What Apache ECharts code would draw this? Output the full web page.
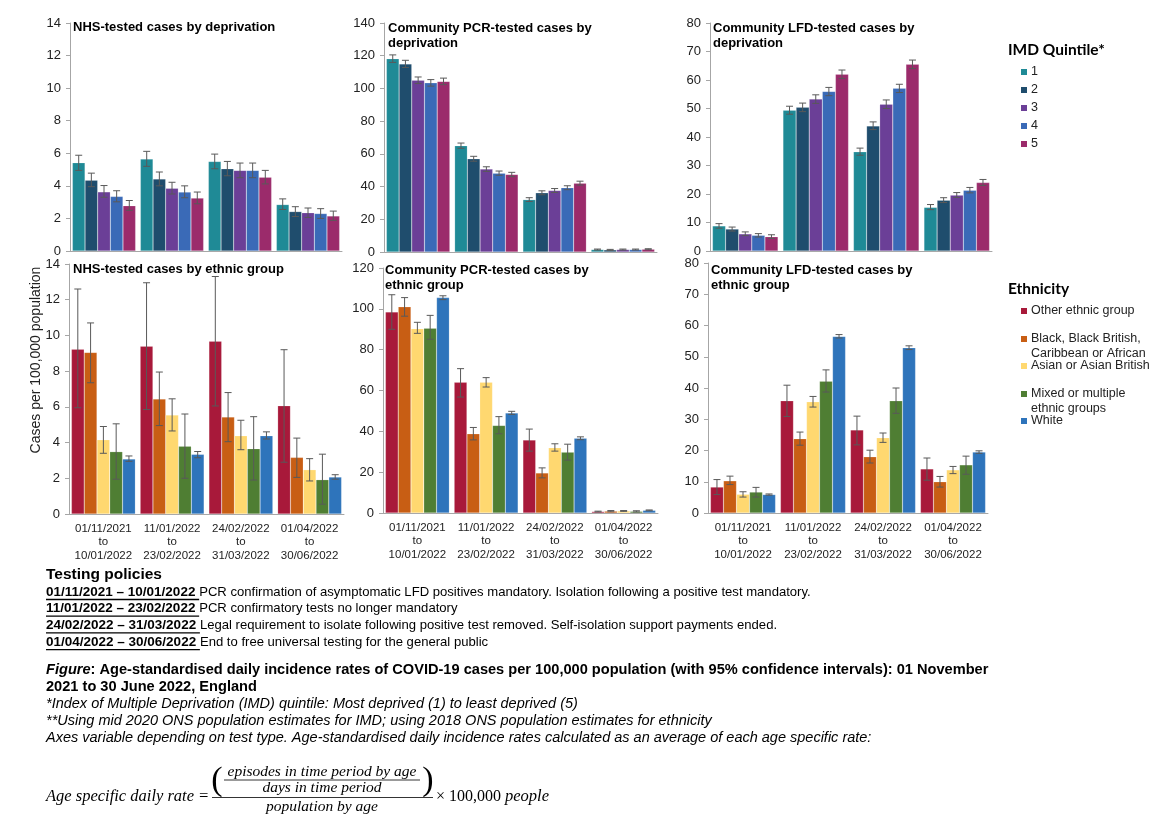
<!DOCTYPE html>
<html>
<head>
<meta charset="utf-8">
<script src="https://cdn.jsdelivr.net/npm/echarts@6/dist/echarts.min.js"></script>
<style>
html, body { margin: 0; padding: 0; background: #fff; }
#main { width: 1162px; height: 820px; }
</style>
</head>
<body>
<div id="main"></div>
<script>
// categories
var periods = ['01/11/2021\nto\n10/01/2022', '11/01/2022\nto\n23/02/2022', '24/02/2022\nto\n31/03/2022', '01/04/2022\nto\n30/06/2022'];
var quintiles = ['1', '2', '3', '4', '5'];
var ethnicGroups = ['Other ethnic group', 'Black, Black British,\nCaribbean or African', 'Asian or Asian British', 'Mixed or multiple\nethnic groups', 'White'];

var quintileColors = ['#1F8A96', '#1F4D6D', '#6B3F97', '#3A6AB7', '#9B2B6B'];
var ethnicColors = ['#A8193A', '#C85E14', '#FFD870', '#4F7E33', '#2E74BB'];

// NHS-tested by deprivation (one row per quintile, one value per period)
var nhsDepRate = [[5.42, 5.65, 5.5, 2.85], [4.35, 4.42, 5.05, 2.42], [3.63, 3.85, 4.95, 2.35], [3.35, 3.62, 4.95, 2.3], [2.78, 3.25, 4.53, 2.15]];
var nhsDepLow = [[4.95, 5.2, 5.05, 2.55], [3.95, 4.0, 4.62, 2.12], [3.3, 3.5, 4.5, 2.06], [3.02, 3.27, 4.5, 2.0], [2.5, 2.9, 4.12, 1.88]];
var nhsDepHigh = [[5.88, 6.12, 5.95, 3.2], [4.78, 4.85, 5.5, 2.72], [4.02, 4.22, 5.4, 2.64], [3.7, 4.0, 5.4, 2.6], [3.1, 3.62, 4.95, 2.45]];

// Community PCR-tested by deprivation
var pcrDepRate = [[118.2, 65.0, 32.0, 1.5], [115.0, 57.0, 36.2, 1.3], [105.0, 50.7, 37.6, 1.5], [103.4, 48.2, 39.3, 1.5], [104.3, 47.4, 42.1, 1.7]];
var pcrDepLow = [[115.9, 63.4, 30.9, 1.2], [112.8, 55.5, 35.0, 1.0], [103.0, 49.3, 36.4, 1.2], [101.4, 46.9, 38.1, 1.2], [102.3, 46.1, 40.9, 1.4]];
var pcrDepHigh = [[120.5, 66.6, 33.2, 1.8], [117.2, 58.5, 37.4, 1.6], [107.0, 52.1, 38.8, 1.8], [105.4, 49.5, 40.5, 1.8], [106.3, 48.7, 43.3, 2.0]];

// Community LFD-tested by deprivation
var lfdDepRate = [[8.8, 49.4, 34.8, 15.3], [7.7, 50.4, 43.9, 17.8], [6.0, 53.3, 51.5, 19.6], [5.5, 56.0, 57.1, 21.3], [5.0, 62.0, 65.5, 24.0]];
var lfdDepLow = [[8.0, 48.0, 33.6, 14.5], [7.0, 48.9, 42.6, 17.0], [5.4, 51.8, 50.0, 18.8], [4.9, 54.5, 55.6, 20.4], [4.4, 60.5, 64.0, 23.0]];
var lfdDepHigh = [[9.6, 50.8, 36.1, 16.3], [8.4, 51.9, 45.3, 18.7], [6.7, 54.8, 53.0, 20.5], [6.1, 57.4, 58.5, 22.3], [5.7, 63.5, 67.0, 25.1]];

// NHS-tested by ethnic group (one row per group)
var nhsEthRate = [[9.23, 9.4, 9.68, 6.06], [9.05, 6.44, 5.43, 3.17], [4.16, 5.54, 4.38, 2.48], [3.49, 3.8, 3.66, 1.92], [3.08, 3.34, 4.38, 2.07]];
var nhsEthLow = [[5.95, 5.85, 6.05, 2.9], [7.35, 4.95, 4.05, 2.05], [3.4, 4.65, 3.6, 1.85], [1.95, 2.0, 1.9, 0.55], [2.95, 3.15, 4.2, 1.95]];
var nhsEthHigh = [[12.6, 12.95, 13.3, 9.2], [10.7, 7.95, 6.8, 4.25], [4.9, 6.45, 5.25, 3.1], [5.05, 5.6, 5.45, 3.35], [3.25, 3.5, 4.6, 2.2]];

// Community PCR-tested by ethnic group
var pcrEthRate = [[98.5, 64.0, 35.7, 0.7], [101.0, 38.8, 19.6, 0.9], [90.3, 64.0, 32.0, 1.0], [90.5, 42.9, 29.8, 0.8], [105.5, 49.0, 36.6, 1.3]];
var pcrEthLow = [[90.0, 56.8, 30.3, 0.5], [96.4, 35.8, 17.2, 0.6], [88.0, 61.7, 30.3, 0.8], [85.1, 38.8, 25.9, 0.5], [104.5, 48.3, 35.9, 1.1]];
var pcrEthHigh = [[106.9, 70.7, 41.1, 0.9], [105.5, 41.9, 22.1, 1.2], [93.4, 66.3, 33.9, 1.2], [96.8, 47.2, 33.7, 1.1], [106.4, 49.8, 37.3, 1.5]];

// Community LFD-tested by ethnic group
var lfdEthRate = [[8.3, 35.9, 26.6, 14.1], [10.3, 23.8, 18.0, 10.0], [6.0, 35.6, 24.1, 13.8], [6.7, 42.2, 35.9, 15.4], [5.9, 56.5, 52.9, 19.5]];
var lfdEthLow = [[5.9, 30.9, 21.8, 10.5], [9.1, 21.7, 16.0, 8.3], [5.1, 33.9, 22.6, 12.6], [5.1, 38.7, 31.9, 12.4], [5.7, 56.0, 52.3, 19.1]];
var lfdEthHigh = [[10.7, 40.9, 31.0, 17.6], [11.8, 25.9, 20.1, 11.7], [6.8, 37.3, 25.6, 14.9], [8.2, 45.8, 40.0, 18.2], [6.1, 57.1, 53.5, 19.9]];

var policyDates = ['01/11/2021 – 10/01/2022', '11/01/2022 – 23/02/2022', '24/02/2022 – 31/03/2022', '01/04/2022 – 30/06/2022'];
var policyTexts = [
  'PCR confirmation of asymptomatic LFD positives mandatory. Isolation following a positive test mandatory.',
  'PCR confirmatory tests no longer mandatory',
  'Legal requirement to isolate following positive test removed. Self-isolation support payments ended.',
  'End to free universal testing for the general public'
];

var CAT_GAP = 0.07;
var FONT = 'Liberation Sans, Arial, sans-serif';

var panels = [
  { title: 'NHS-tested cases by deprivation', max: 14, interval: 2, names: quintiles, colors: quintileColors,
    rate: nhsDepRate, low: nhsDepLow, high: nhsDepHigh, labels: false,
    box: { left: 70, top: 23, width: 272, height: 228 }, tpos: [73, 20] },
  { title: 'Community PCR-tested cases by\ndeprivation', max: 140, interval: 20, names: quintiles, colors: quintileColors,
    rate: pcrDepRate, low: pcrDepLow, high: pcrDepHigh, labels: false,
    box: { left: 384, top: 23, width: 273, height: 229 }, tpos: [388, 21] },
  { title: 'Community LFD-tested cases by\ndeprivation', max: 80, interval: 10, names: quintiles, colors: quintileColors,
    rate: lfdDepRate, low: lfdDepLow, high: lfdDepHigh, labels: false,
    box: { left: 710, top: 23, width: 282, height: 228 }, tpos: [713, 21] },
  { title: 'NHS-tested cases by ethnic group', max: 14, interval: 2, names: ethnicGroups, colors: ethnicColors,
    rate: nhsEthRate, low: nhsEthLow, high: nhsEthHigh, labels: true,
    box: { left: 69, top: 264, width: 275, height: 250 }, tpos: [73, 262] },
  { title: 'Community PCR-tested cases by\nethnic group', max: 120, interval: 20, names: ethnicGroups, colors: ethnicColors,
    rate: pcrEthRate, low: pcrEthLow, high: pcrEthHigh, labels: true,
    box: { left: 383, top: 268, width: 275, height: 245 }, tpos: [385, 263] },
  { title: 'Community LFD-tested cases by\nethnic group', max: 80, interval: 10, names: ethnicGroups, colors: ethnicColors,
    rate: lfdEthRate, low: lfdEthLow, high: lfdEthHigh, labels: true,
    box: { left: 708, top: 263, width: 280, height: 250 }, tpos: [711, 263] }
];

function errorBars(params, api) {
  var cat = api.value(0), k = api.value(1);
  var lo = api.coord([cat, api.value(2)]);
  var hi = api.coord([cat, api.value(3)]);
  var band = api.size([1, 0])[0];
  var barW = band * (1 - CAT_GAP) / 5;
  var x = lo[0] + (k - 2) * barW;
  var cap = 3.5;
  var st = { stroke: '#595959', lineWidth: 1 };
  return {
    type: 'group',
    children: [
      { type: 'line', shape: { x1: x, y1: lo[1], x2: x, y2: hi[1] }, style: st },
      { type: 'line', shape: { x1: x - cap, y1: hi[1], x2: x + cap, y2: hi[1] }, style: st },
      { type: 'line', shape: { x1: x - cap, y1: lo[1], x2: x + cap, y2: lo[1] }, style: st }
    ]
  };
}

var grids = [], xAxes = [], yAxes = [], titles = [], series = [];
panels.forEach(function (p, i) {
  grids.push(p.box);
  titles.push({
    text: p.title, left: p.tpos[0], top: p.tpos[1], padding: 0,
    textStyle: { fontFamily: FONT, fontSize: 13, fontWeight: 'bold', color: '#000', lineHeight: 15 }
  });
  xAxes.push({
    type: 'category', gridIndex: i, data: periods,
    axisTick: { show: false },
    axisLine: { lineStyle: { color: '#A6A6A6', width: 1 } },
    axisLabel: { show: p.labels, interval: 0, fontFamily: FONT, fontSize: 11.5, lineHeight: 13.5, color: '#222', margin: 8 }
  });
  yAxes.push({
    type: 'value', gridIndex: i, min: 0, max: p.max, interval: p.interval,
    splitLine: { show: false },
    axisLine: { show: true, lineStyle: { color: '#A6A6A6', width: 1 } },
    axisTick: { show: true, length: 4, lineStyle: { color: '#A6A6A6' } },
    axisLabel: { fontFamily: FONT, fontSize: 13, color: '#222', margin: 9 }
  });
  var errData = [];
  p.names.forEach(function (name, k) {
    series.push({
      type: 'bar', name: name, xAxisIndex: i, yAxisIndex: i,
      data: p.rate[k], barGap: '0%', barCategoryGap: (CAT_GAP * 100) + '%',
      itemStyle: { color: p.colors[k], borderColor: 'rgba(255,255,255,0.35)', borderWidth: 0.5 },
      silent: true
    });
    p.rate[k].forEach(function (v, c) {
      errData.push([c, k, p.low[k][c], p.high[k][c]]);
    });
  });
  series.push({
    type: 'custom', xAxisIndex: i, yAxisIndex: i, data: errData,
    encode: { x: 0, y: [2, 3] }, renderItem: errorBars, z: 10, silent: true
  });
});

// legends (display only)
var graphics = [];
function legendBlock(heading, hx, hy, names, colors, rows) {
  graphics.push({ type: 'text', x: hx, y: hy, style: {
    text: heading, font: 'bold 15.5px Lato, "Open Sans", sans-serif', fill: '#000', verticalAlign: 'middle' } });
  names.forEach(function (n, k) {
    graphics.push({ type: 'rect', shape: { x: 1021, y: rows[k] - 3, width: 6, height: 6 }, style: { fill: colors[k] } });
    graphics.push({ type: 'text', x: 1031, y: rows[k] - 7.5, style: {
      text: n, font: '12.5px ' + FONT, fill: '#222', lineHeight: 14.5, verticalAlign: 'top' } });
  });
}
legendBlock('IMD Quintile*', 1008, 50, quintiles, quintileColors, [72, 90, 108, 126, 144]);
legendBlock('Ethnicity', 1008, 289, ethnicGroups, ethnicColors, [311, 339, 366, 394, 421]);

// y-axis name
graphics.push({ type: 'text', x: 36, y: 360, rotation: Math.PI / 2, style: {
  text: 'Cases per 100,000 population', font: '14px ' + FONT, fill: '#222', align: 'center', verticalAlign: 'middle' } });

// testing policies
var measure = document.createElement('canvas').getContext('2d');
function textWidth(str, font) { measure.font = font; return measure.measureText(str).width; }

graphics.push({ type: 'text', x: 46, y: 575, style: {
  text: 'Testing policies', font: 'bold 15.5px ' + FONT, fill: '#000', verticalAlign: 'middle' } });
var boldF = 'bold 13.5px ' + FONT, regF = '13.1px ' + FONT;
policyDates.forEach(function (d, k) {
  var y = 592 + k * 16.7;
  var w = textWidth(d + ' ', boldF);
  graphics.push({ type: 'text', x: 46, y: y, style: { text: d, font: boldF, fill: '#000', verticalAlign: 'middle' } });
  graphics.push({ type: 'line', shape: { x1: 46, y1: y + 7.5, x2: 46 + w, y2: y + 7.5 }, style: { stroke: '#000', lineWidth: 1.3 } });
  graphics.push({ type: 'text', x: 46 + w, y: y, style: { text: policyTexts[k], font: regF, fill: '#000', verticalAlign: 'middle' } });
});

// figure caption
graphics.push({ type: 'text', x: 46, y: 670, style: {
  text: '{i|Figure}{b|: Age-standardised daily incidence rates of COVID-19 cases per 100,000 population (with 95% confidence intervals): 01 November}',
  verticalAlign: 'middle',
  rich: {
    i: { font: 'italic bold 14.6px ' + FONT, fill: '#000' },
    b: { font: 'bold 14.6px ' + FONT, fill: '#000' }
  } } });
graphics.push({ type: 'text', x: 46, y: 687, style: {
  text: '2021 to 30 June 2022, England', font: 'bold 14.6px ' + FONT, fill: '#000', verticalAlign: 'middle' } });
var notes = [
  '*Index of Multiple Deprivation (IMD) quintile: Most deprived (1) to least deprived (5)',
  '**Using mid 2020 ONS population estimates for IMD; using 2018 ONS population estimates for ethnicity',
  'Axes variable depending on test type. Age-standardised daily incidence rates calculated as an average of each age specific rate:'
];
notes.forEach(function (t, k) {
  graphics.push({ type: 'text', x: 46, y: 704 + k * 17, style: {
    text: t, font: 'italic 14.5px ' + FONT, fill: '#000', verticalAlign: 'middle' } });
});

// formula
var serifI = 'italic 16.5px "Liberation Serif", "DejaVu Serif", serif';
var serifS = 'italic 15.5px "Liberation Serif", "DejaVu Serif", serif';
graphics.push({ type: 'text', x: 46, y: 797, style: { text: 'Age specific daily rate =', font: serifI, fill: '#000', verticalAlign: 'middle' } });
graphics.push({ type: 'text', x: 322, y: 772, style: { text: 'episodes in time period by age', font: serifS, fill: '#000', align: 'center', verticalAlign: 'middle' } });
graphics.push({ type: 'line', shape: { x1: 224, y1: 780, x2: 420, y2: 780 }, style: { stroke: '#000', lineWidth: 0.8 } });
graphics.push({ type: 'text', x: 322, y: 788, style: { text: 'days in time period', font: serifS, fill: '#000', align: 'center', verticalAlign: 'middle' } });
graphics.push({ type: 'text', x: 217, y: 781, style: { text: '(', font: '34px "Liberation Serif", serif', fill: '#000', align: 'center', verticalAlign: 'middle' } });
graphics.push({ type: 'text', x: 428, y: 781, style: { text: ')', font: '34px "Liberation Serif", serif', fill: '#000', align: 'center', verticalAlign: 'middle' } });
graphics.push({ type: 'line', shape: { x1: 212, y1: 797.5, x2: 433, y2: 797.5 }, style: { stroke: '#000', lineWidth: 0.8 } });
graphics.push({ type: 'text', x: 322, y: 807, style: { text: 'population by age', font: serifS, fill: '#000', align: 'center', verticalAlign: 'middle' } });
graphics.push({ type: 'text', x: 436, y: 797, style: {
  text: '{n|× 100,000 }{i|people}', verticalAlign: 'middle',
  rich: { n: { font: '16px "Liberation Serif", serif', fill: '#000' }, i: { font: serifI, fill: '#000' } } } });

var chart = echarts.init(document.getElementById('main'));
chart.setOption({
  animation: false,
  backgroundColor: '#fff',
  title: titles,
  grid: grids,
  xAxis: xAxes,
  yAxis: yAxes,
  series: series,
  graphic: graphics
});
</script>
</body>
</html>
